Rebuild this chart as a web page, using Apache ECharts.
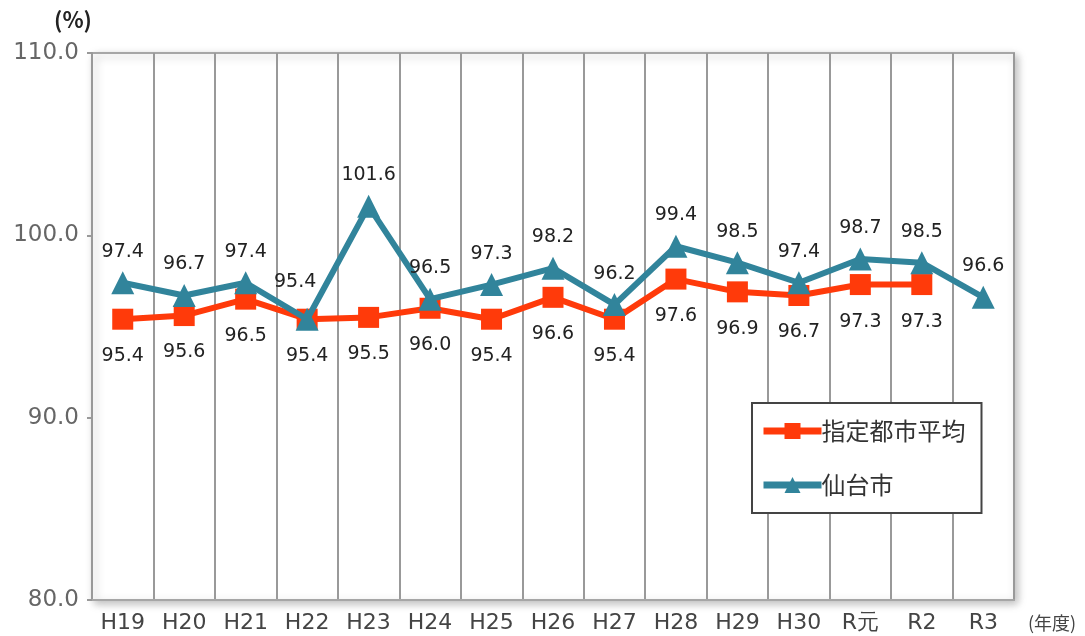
<!DOCTYPE html>
<html>
<head>
<meta charset="utf-8">
<script src="https://cdn.jsdelivr.net/npm/echarts@6/dist/echarts.min.js"></script>
<style>
  html, body { margin: 0; padding: 0; background: #fff; }
  #chart { width: 1085px; height: 636px; }
</style>
</head>
<body>
<div id="chart"></div>
<script>
// 年度
const categories = ['H19', 'H20', 'H21', 'H22', 'H23', 'H24', 'H25', 'H26', 'H27', 'H28', 'H29', 'H30', 'R元', 'R2', 'R3'];
// 指定都市平均 (%)
const cityAverage = [95.4, 95.6, 96.5, 95.4, 95.5, 96.0, 95.4, 96.6, 95.4, 97.6, 96.9, 96.7, 97.3, 97.3, null];
// 仙台市 (%)
const sendai = [97.4, 96.7, 97.4, 95.4, 101.6, 96.5, 97.3, 98.2, 96.2, 99.4, 98.5, 97.4, 98.7, 98.5, 96.6];
const yTicks = [80, 90, 100, 110];

const FONT = '"Noto Sans CJK JP", "Noto Sans", sans-serif';
const NUM_FONT = '"DejaVu Sans", "Noto Sans", sans-serif';
const ORANGE = '#ff3a0a';
const TEAL = '#31849b';

const chart = echarts.init(document.getElementById('chart'), null, { renderer: 'canvas' });

const sendaiData = sendai.map((v, i) => {
  const d = { value: v };
  if (categories[i] === 'H22') {
    d.label = { offset: [-12, -6] };
  }
  return d;
});

chart.setOption({
  animation: false,
  grid: {
    left: 92, right: 71, top: 53, bottom: 36,
    show: true,
    backgroundColor: '#fff',
    borderColor: '#a6a6a6',
    borderWidth: 2,
    shadowColor: 'rgba(0,0,0,0.25)',
    shadowBlur: 8,
    shadowOffsetX: 3,
    shadowOffsetY: 3
  },
  legend: {
    orient: 'vertical',
    left: 752, top: 403,
    width: 232,
    padding: [16, 16, 16, 8],
    itemGap: 30,
    itemWidth: 58,
    itemHeight: 20,
    borderColor: '#444',
    borderWidth: 2,
    backgroundColor: '#fff',
    lineStyle: { width: 7 },
    textStyle: { fontFamily: FONT, fontSize: 24, color: '#333', padding: [0, 0, 0, -5] },
    data: ['指定都市平均', '仙台市']
  },
  xAxis: {
    type: 'category',
    data: categories,
    boundaryGap: true,
    axisLine: { show: true, lineStyle: { color: '#a6a6a6', width: 2 } },
    axisTick: { show: false },
    axisLabel: { fontFamily: NUM_FONT, fontSize: 22, color: '#444', margin: 12 },
    splitLine: { show: true, lineStyle: { color: '#999', width: 2 } },
    name: '(年度)',
    nameLocation: 'end',
    nameGap: 14,
    nameTextStyle: { fontFamily: FONT, fontSize: 18, color: '#444', verticalAlign: 'top', padding: [14, 0, 0, 0] }
  },
  yAxis: {
    type: 'value',
    min: yTicks[0],
    max: yTicks[yTicks.length - 1],
    interval: 10,
    axisLine: { show: true, lineStyle: { color: '#999', width: 2 } },
    axisTick: { show: true, length: 5, lineStyle: { color: '#999', width: 2 } },
    splitLine: { show: false },
    axisLabel: {
      fontFamily: NUM_FONT, fontSize: 23, color: '#666', margin: 13,
      formatter: v => v.toFixed(1)
    },
    name: '(%)',
    nameLocation: 'end',
    nameGap: 22,
    nameTextStyle: { fontFamily: FONT, fontSize: 22, fontWeight: 'bold', color: '#222', align: 'center', padding: [0, 0, 0, -38] }
  },
  series: [
    {
      name: '指定都市平均',
      type: 'line',
      data: cityAverage,
      symbol: 'rect',
      symbolSize: 21,
      lineStyle: { color: ORANGE, width: 6 },
      itemStyle: { color: ORANGE },
      label: {
        show: true, position: 'bottom', distance: 17,
        fontFamily: NUM_FONT, fontSize: 19, color: '#222',
        formatter: p => p.value.toFixed(1)
      },
      z: 2
    },
    {
      name: '仙台市',
      type: 'line',
      data: sendaiData,
      symbol: 'triangle',
      symbolSize: 23,
      lineStyle: { color: TEAL, width: 6 },
      itemStyle: { color: TEAL },
      label: {
        show: true, position: 'top', distance: 10,
        fontFamily: NUM_FONT, fontSize: 19, color: '#222',
        formatter: p => p.value.toFixed(1)
      },
      z: 3
    }
  ]
});
</script>
</body>
</html>
